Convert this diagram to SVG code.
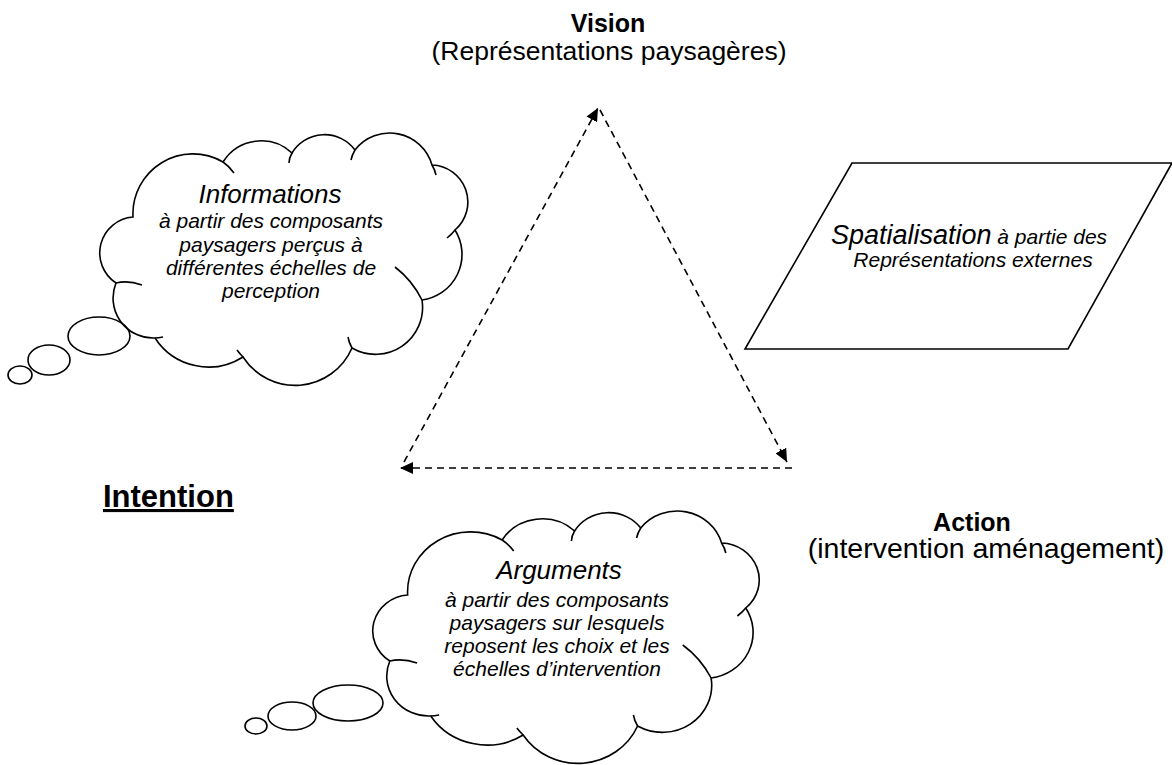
<svg xmlns="http://www.w3.org/2000/svg" xmlns:xlink="http://www.w3.org/1999/xlink" width="1172" height="765" viewBox="0 0 1172 765">
<style>
text{font-family:"Liberation Sans",Arial,Helvetica,sans-serif;fill:#000}
.b{font-weight:bold}
.i{font-style:italic}
.c{text-anchor:middle}
.o{fill:none;stroke:#000;stroke-width:1.6}
.dash{fill:none;stroke:#000;stroke-width:1.6;stroke-dasharray:7 5}
</style>
<defs>
<marker id="ah" markerUnits="userSpaceOnUse" markerWidth="14" markerHeight="12" refX="13" refY="6" orient="auto">
<path d="M0,0 L13,6 L0,12 z" fill="#000" stroke="none"/>
</marker>
<g id="cloud">
<path class="o" d="M133,217 A60,60 0 0 1 223,162 A45,45 0 0 1 292,153 A38,38 0 0 1 355,150 A44,44 0 0 1 432,165 A37,37 0 0 1 455,230 A46,46 0 0 1 422,300 A47,47 0 0 1 352,348 A62,62 0 0 1 243,357 A64,64 0 0 1 155,338 A40,40 0 0 1 116,283 A36,36 0 0 1 133,217 Z" vector-effect="non-scaling-stroke"/>
<path class="o" vector-effect="non-scaling-stroke" d="M223,162 Q229,166 234,173 M292,153 Q289,158 289,163 M355,150 Q352,155 351,160 M432,165 Q435,170 436,175 M455,230 Q452,234 447,238 M422,300 Q412,280 395,267 M352,348 Q349,343 348,337 M243,357 Q240,354 237,350 M155,338 Q158,338 163,337 M116,283 Q128,280 142,285"/>
</g>
</defs>

<g id="connectors">
<path class="dash" d="M404,462 L598,108" marker-end="url(#ah)"/>
<path class="dash" d="M600,110 L787,462" marker-end="url(#ah)"/>
<path class="dash" d="M792,468 L400,468" marker-end="url(#ah)"/>
</g>

<g id="vision">
<text class="b c" x="608" y="32" font-size="25">Vision</text>
<text class="c" x="609" y="60" font-size="26.5">(Représentations paysagères)</text>
</g>

<g id="action">
<text class="b c" x="972" y="531" font-size="25">Action</text>
<text class="c" x="986" y="558" font-size="28.5">(intervention aménagement)</text>
</g>

<g id="intention">
<text class="b" x="103" y="507" font-size="31" text-decoration="underline">Intention</text>
</g>

<g id="informations">
<use xlink:href="#cloud" href="#cloud"/>
<ellipse class="o" cx="99" cy="336" rx="31" ry="19"/>
<ellipse class="o" cx="49" cy="360" rx="21" ry="15"/>
<ellipse class="o" cx="20" cy="375" rx="12" ry="9"/>
<text class="i c" x="270" y="203" font-size="26">Informations</text>
<text class="i c" x="271" y="228" font-size="21">à partir des composants</text>
<text class="i c" x="271" y="252" font-size="21">paysagers perçus à</text>
<text class="i c" x="271" y="275" font-size="21">différentes échelles de</text>
<text class="i c" x="271" y="298" font-size="21">perception</text>
</g>

<g id="arguments">
<use xlink:href="#cloud" href="#cloud" transform="translate(268,378) scale(1.05,1)"/>
<ellipse class="o" cx="348" cy="703" rx="35" ry="18"/>
<ellipse class="o" cx="292" cy="716" rx="24" ry="14"/>
<ellipse class="o" cx="256" cy="726" rx="11" ry="8"/>
<text class="i c" x="559" y="579" font-size="26">Arguments</text>
<text class="i c" x="557" y="607" font-size="21">à partir des composants</text>
<text class="i c" x="557" y="630" font-size="21">paysagers sur lesquels</text>
<text class="i c" x="557" y="653" font-size="21">reposent les choix et les</text>
<text class="i c" x="557" y="676" font-size="21">échelles d’intervention</text>
</g>

<g id="spatialisation">
<path class="o" d="M852,163 L1172,163 L1068,349 L745,349 Z"/>
<text class="i c" x="969" y="244"><tspan font-size="27">Spatialisation</tspan><tspan font-size="21"> à partie des</tspan></text>
<text class="i c" x="973" y="267" font-size="21">Représentations externes</text>
</g>
</svg>
